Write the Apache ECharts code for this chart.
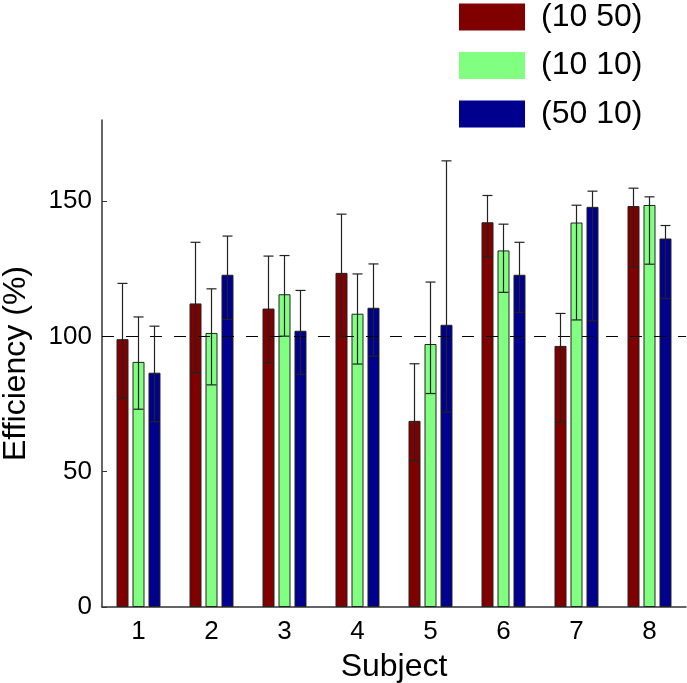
<!DOCTYPE html>
<html>
<head>
<meta charset="utf-8">
<script src="https://cdn.jsdelivr.net/npm/echarts@6/dist/echarts.min.js"></script>
<style>html,body{margin:0;padding:0;background:#fff;}#c{width:687px;height:683px;}</style>
</head>
<body>
<div id="c"></div>
<script>
var categories = ['1','2','3','4','5','6','7','8'];
var seriesNames = ['(10 50)', '(10 10)', '(50 10)'];
var red = [99.0, 112.2, 110.3, 123.5, 68.8, 142.2, 96.5, 148.2];
var redHi = [119.6, 134.8, 129.7, 145.2, 89.9, 152.1, 108.5, 154.8];
var redLo = [77.1, 86.6, 90.1, 100.1, 53.9, 129.4, 68.2, 125.7];
var green = [90.6, 101.3, 115.6, 108.4, 97.2, 131.8, 142.1, 148.6];
var greenHi = [107.2, 117.6, 129.9, 123.1, 120.1, 141.5, 148.5, 151.6];
var greenLo = [73.1, 82.1, 100.1, 89.8, 78.9, 116.3, 106.1, 126.7];
var blue = [86.6, 122.8, 102.1, 110.6, 104.3, 122.8, 147.9, 136.2];
var blueHi = [103.8, 137.1, 117.0, 126.8, 164.9, 134.8, 153.7, 141.0];
var blueLo = [68.5, 106.3, 86.0, 92.7, 72.0, 108.9, 105.8, 114.0];
var yTicks = [0, 50, 100, 150];
var refLine = 100;

var colors = ['#800000', '#80FF80', '#00008F'];
var vals = [red, green, blue];
var his = [redHi, greenHi, blueHi];
var los = [redLo, greenLo, blueLo];
var BAR_W = 12, STEP = 16, CAP = 5;

var chart = echarts.init(document.getElementById('c'), null, {renderer: 'canvas'});
var series = [];
vals.forEach(function (v, i) {
  series.push({
    name: seriesNames[i], type: 'bar', data: v, barWidth: BAR_W, barGap: '33.3%',
    itemStyle: {color: colors[i], borderColor: '#222', borderWidth: 1},
    z: 2
  });
});
vals.forEach(function (v, i) {
  var d = categories.map(function (c, k) { return [k, los[i][k], his[i][k]]; });
  series.push({
    type: 'custom', data: d, z: 5, silent: true,
    renderItem: function (params, api) {
      var k = api.value(0);
      var x = api.coord([k, 0])[0] + (i - 1) * STEP;
      var yl = api.coord([k, api.value(1)])[1];
      var yh = api.coord([k, api.value(2)])[1];
      var st = {stroke: '#222', lineWidth: 1.2};
      return {type: 'group', children: [
        {type: 'line', shape: {x1: x, y1: yl, x2: x, y2: yh}, style: st},
        {type: 'line', shape: {x1: x - CAP, y1: yh, x2: x + CAP, y2: yh}, style: st},
        {type: 'line', shape: {x1: x - CAP, y1: yl, x2: x + CAP, y2: yl}, style: st}
      ]};
    },
    markLine: {
      silent: true, symbol: ['none', 'none'], label: {show: false},
      lineStyle: {color: '#000', width: 1, type: [12, 12]},
      data: i === 0 ? [{yAxis: refLine}] : []
    }
  });
});

chart.setOption({
  animation: false,
  backgroundColor: '#fff',
  textStyle: {fontFamily: 'Liberation Sans, Arial, sans-serif'},
  legend: {
    data: seriesNames, orient: 'vertical', left: 459, top: 1, padding: 0,
    itemWidth: 66, itemHeight: 27, itemGap: 16.5, icon: 'rect',
    itemStyle: {borderWidth: 0},
    textStyle: {fontSize: 32, color: '#000', lineHeight: 27, padding: [0, 0, 0, 11], fontFamily: 'Liberation Sans, Arial, sans-serif'}
  },
  grid: {left: 102, right: 1, top: 120, bottom: 76, containLabel: false, outerBoundsMode: 'none'},
  xAxis: {
    type: 'category', data: categories,
    axisLine: {lineStyle: {color: '#333', width: 1.5}},
    axisTick: {show: false},
    axisLabel: {fontSize: 26, color: '#000', margin: 12},
    name: 'Subject', nameLocation: 'middle', nameGap: 44,
    nameTextStyle: {fontSize: 32, color: '#000'}
  },
  yAxis: {
    type: 'value', min: 0, max: 180, interval: 50,
    axisLine: {show: true, lineStyle: {color: '#333', width: 1.5}},
    axisTick: {show: true, inside: true, length: 5, customValues: yTicks, lineStyle: {color: '#333'}},
    axisLabel: {fontSize: 26, color: '#000', margin: 10, customValues: yTicks},
    splitLine: {show: false},
    name: 'Efficiency (%)', nameLocation: 'middle', nameGap: 70,
    nameTextStyle: {fontSize: 32, color: '#000'}
  },
  series: series
});
</script>
</body>
</html>
